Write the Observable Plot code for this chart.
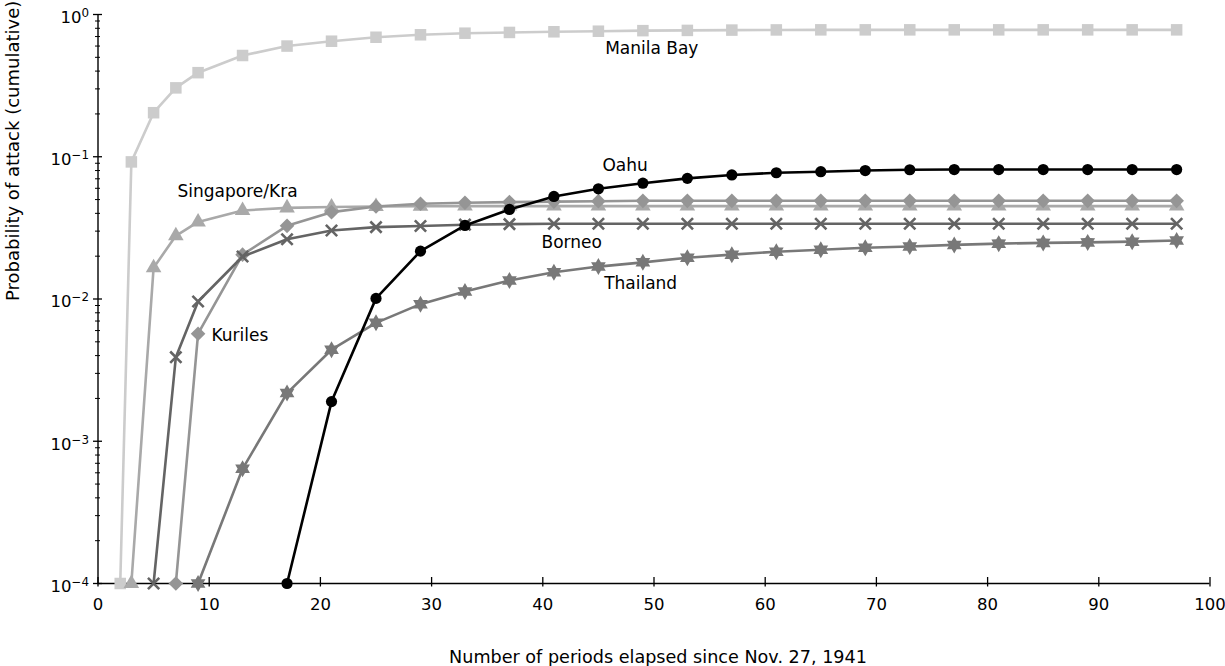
<!DOCTYPE html>
<html>
<head>
<meta charset="utf-8">
<script src="https://cdn.jsdelivr.net/npm/d3@7"></script>
<script src="https://cdn.jsdelivr.net/npm/@observablehq/plot@0.6"></script>
<style>
  html, body { margin: 0; padding: 0; background: #ffffff; }
  #chart svg { display: block; }
</style>
</head>
<body>
<div id="chart"></div>
<script>
// ---- Data ----
const periods = [2, 3, 5, 7, 9, 13, 17, 21, 25, 29, 33, 37, 41, 45, 49, 53, 57, 61, 65, 69, 73, 77, 81, 85, 89, 93, 97];

const manilaBay = [1e-4, 0.092, 0.204, 0.305, 0.39, 0.515, 0.6, 0.649, 0.692, 0.72, 0.739, 0.748, 0.756, 0.763, 0.77, 0.773, 0.777, 0.779, 0.78, 0.78, 0.78, 0.78, 0.78, 0.78, 0.78, 0.78, 0.78];
const singaporeKra = [null, 1e-4, 0.0166, 0.0278, 0.0348, 0.0419, 0.0437, 0.0443, 0.0447, 0.0449, 0.045, 0.045, 0.045, 0.045, 0.045, 0.045, 0.045, 0.045, 0.045, 0.045, 0.045, 0.045, 0.045, 0.045, 0.045, 0.045, 0.045];
const kuriles = [null, null, null, 1e-4, 0.0057, 0.0205, 0.0327, 0.0408, 0.0447, 0.0467, 0.0475, 0.048, 0.0484, 0.0487, 0.049, 0.049, 0.049, 0.049, 0.049, 0.049, 0.049, 0.049, 0.049, 0.049, 0.049, 0.049, 0.049];
const borneo = [null, null, 1e-4, 0.0039, 0.0096, 0.0199, 0.0263, 0.0303, 0.032, 0.0326, 0.0333, 0.0336, 0.0338, 0.0338, 0.0338, 0.0338, 0.0338, 0.0338, 0.0338, 0.0338, 0.0338, 0.0338, 0.0338, 0.0338, 0.0338, 0.0338, 0.0338];
const thailand = [null, null, null, null, 1e-4, 0.00064, 0.00218, 0.0044, 0.0068, 0.0092, 0.0113, 0.0135, 0.0154, 0.0169, 0.0181, 0.0195, 0.0205, 0.0215, 0.0222, 0.0229, 0.0234, 0.024, 0.0245, 0.0248, 0.025, 0.0253, 0.0258];
const oahu = [null, null, null, null, null, null, 1e-4, 0.0019, 0.0101, 0.0217, 0.0329, 0.0426, 0.0526, 0.0595, 0.0652, 0.0705, 0.0745, 0.0772, 0.0785, 0.08, 0.081, 0.0813, 0.0813, 0.0813, 0.0813, 0.0813, 0.0813];

const seriesNames = ["Manila Bay", "Singapore/Kra", "Kuriles", "Borneo", "Thailand", "Oahu"];
const seriesValues = [manilaBay, singaporeKra, kuriles, borneo, thailand, oahu];

// Series annotations (data coordinates)
const labelTexts = ["Manila Bay", "Singapore/Kra", "Oahu", "Borneo", "Thailand", "Kuriles"];
const labelPeriods = [49.8, 12.55, 47.4, 42.6, 48.8, 10.2];
const labelProbs = [0.572, 0.057, 0.0868, 0.025, 0.01285, 0.00554];
const labelAnchors = ["middle", "middle", "middle", "middle", "middle", "start"];

// Axes
const xTicks = [0, 10, 20, 30, 40, 50, 60, 70, 80, 90, 100];
const yMajorTicks = [1e-4, 1e-3, 1e-2, 1e-1, 1];
const yTickBase = "10";
const yTickExponents = ["\u22124", "\u22123", "\u22122", "\u22121", "0"];
const yMinorTicks = [1e-4, 1e-3, 1e-2, 1e-1].flatMap(b => [2, 3, 4, 5, 6, 7, 8, 9].map(k => k * b));
const xLabel = "Number of periods elapsed since Nov. 27, 1941";
const yLabel = "Probability of attack (cumulative)";

// ---- Styles ----
const hexStar = {
  draw(context, size) {
    const R = Math.sqrt(size / Math.PI);
    const r = R * 0.58;
    for (let k = 0; k < 12; k++) {
      const a = Math.PI * k / 6 - Math.PI / 2;
      const rr = k % 2 === 0 ? R : r;
      const x = rr * Math.cos(a), y = rr * Math.sin(a);
      if (k === 0) context.moveTo(x, y); else context.lineTo(x, y);
    }
    context.closePath();
  }
};
const seriesStyles = [
  {color: "#cccccc", symbol: "square", r: 6.5, stroked: false},
  {color: "#a9a9a9", symbol: "triangle", r: 5.8, stroked: false},
  {color: "#959595", symbol: "diamond2", r: 6.6, stroked: false},
  {color: "#646464", symbol: "times", r: 5.2, stroked: true},
  {color: "#787878", symbol: hexStar, r: 8.5, stroked: false},
  {color: "#000000", symbol: "circle", r: 5.6, stroked: false}
];

const yMin = yMajorTicks[0], yMax = yMajorTicks[yMajorTicks.length - 1];
const xMin = xTicks[0], xMax = xTicks[xTicks.length - 1];

const seriesMarks = seriesNames.flatMap((name, i) => {
  const rows = periods
    .map((p, j) => ({series: name, period: p, value: seriesValues[i][j]}))
    .filter(d => d.value != null);
  const s = seriesStyles[i];
  return [
    Plot.line(rows, {x: "period", y: "value", stroke: s.color, strokeWidth: 2.6}),
    s.stroked
      ? Plot.dot(rows, {x: "period", y: "value", symbol: s.symbol, r: s.r, stroke: s.color, strokeWidth: 2.6, fill: "none"})
      : Plot.dot(rows, {x: "period", y: "value", symbol: s.symbol, r: s.r, fill: s.color, stroke: "none"})
  ];
});

const labelRows = labelTexts.map((t, i) => ({text: t, x: labelPeriods[i], y: labelProbs[i], anchor: labelAnchors[i]}));

const chart = Plot.plot({
  width: 1225,
  height: 666,
  marginTop: 14,
  marginBottom: 83,
  marginLeft: 97.5,
  marginRight: 15.5,
  x: {domain: [xMin, xMax]},
  y: {type: "log", domain: [yMin, yMax]},
  style: {fontFamily: "'DejaVu Sans', sans-serif", fontSize: "16.5px", color: "#000", background: "#fff", overflow: "visible"},
  marks: [
    // axis lines (spines)
    Plot.ruleX([xMin], {y1: yMin, y2: yMax, stroke: "#000", strokeWidth: 1.4}),
    Plot.ruleY([yMin], {x1: xMin, x2: xMax, stroke: "#000", strokeWidth: 1.4}),
    // crossing tick marks
    Plot.ruleX(xTicks, {x: d => d, y1: yMin, y2: yMin, insetTop: -6, insetBottom: -3.5, stroke: "#000", strokeWidth: 1.3}),
    Plot.ruleY(yMajorTicks, {y: d => d, x1: xMin, x2: xMin, insetLeft: -4.5, insetRight: -4.5, stroke: "#000", strokeWidth: 1.3}),
    Plot.ruleY(yMinorTicks, {y: d => d, x1: xMin, x2: xMin, insetLeft: -2.5, insetRight: -2.5, stroke: "#000", strokeWidth: 1}),
    // tick labels
    Plot.axisX({ticks: xTicks, tickSize: 0, tickPadding: 15, label: null, fontSize: 16.5}),
    Plot.axisY({ticks: yMajorTicks, tickSize: 0, tickPadding: 9, dy: 3, label: null, fontSize: 16.5,
      tickFormat: d => yTickBase + "^" + yTickExponents[yMajorTicks.indexOf(d)]}),
    // axis titles
    Plot.text([xLabel], {text: d => d, frameAnchor: "bottom", dy: 74, dx: 4, fontSize: 17.6, lineAnchor: "middle"}),
    Plot.text([yLabel], {text: d => d, frameAnchor: "left", rotate: -90, dx: -85, dy: 2, fontSize: 18, lineAnchor: "middle"}),
    // series
    ...seriesMarks,
    // series annotations
    Plot.text(labelRows.filter(d => d.anchor === "middle"), {x: "x", y: "y", text: "text", textAnchor: "middle", lineAnchor: "middle", fontSize: 17, fill: "#000"}),
    Plot.text(labelRows.filter(d => d.anchor === "start"), {x: "x", y: "y", text: "text", textAnchor: "start", lineAnchor: "middle", fontSize: 17, fill: "#000"})
  ]
});

// Render y tick labels as base with a real superscript exponent
d3.select(chart).selectAll('g[aria-label="y-axis tick label"] text').each(function () {
  const [base, exp] = this.textContent.split("^");
  const t = d3.select(this);
  t.text(null);
  t.append("tspan").text(base);
  t.append("tspan").attr("dy", "-0.5em").attr("font-size", "0.72em").text(exp);
});

document.getElementById("chart").appendChild(chart);
</script>
</body>
</html>
